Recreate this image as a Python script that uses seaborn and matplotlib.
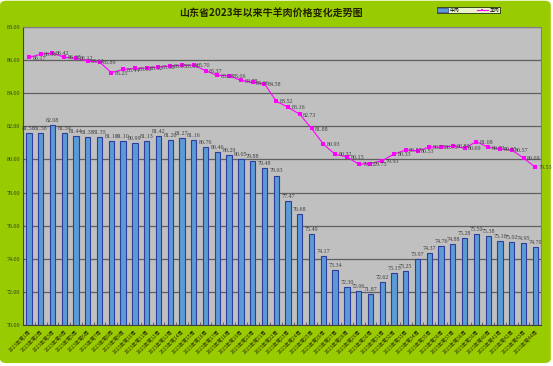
import numpy as np
import pandas as pd
import matplotlib
matplotlib.use("Agg")
import matplotlib.pyplot as plt
from matplotlib.patches import FancyBboxPatch, Patch
from matplotlib.lines import Line2D
import seaborn as sns

# weekly prices, 2023 week 1-44
weeks = [f"2023年第{i}周" for i in range(1, 45)]
beef = [81.58, 81.58, 82.08, 81.59, 81.44, 81.38, 81.35, 81.10, 81.10, 80.99,
        81.13, 81.42, 81.20, 81.27, 81.16, 80.76, 80.46, 80.29, 80.05, 79.88,
        79.48, 79.03, 77.47, 76.68, 75.49, 74.17, 73.34, 72.30, 72.06, 71.87,
        72.62, 73.15, 73.25, 73.97, 74.37, 74.76, 74.88, 75.28, 75.50, 75.38,
        75.10, 75.02, 74.95, 74.70]
mutton = [86.17, 86.36, 86.42, 86.18, 86.12, 85.94, 85.89, 85.25, 85.44, 85.50,
          85.52, 85.58, 85.65, 85.68, 85.70, 85.37, 85.08, 85.06, 84.78, 84.66,
          84.58, 83.52, 83.16, 82.73, 81.88, 80.93, 80.32, 80.15, 79.72, 79.75,
          79.93, 80.33, 80.57, 80.53, 80.75, 80.75, 80.80, 80.69, 81.08, 80.73,
          80.65, 80.57, 80.09, 79.53]
yticks = [70, 72, 74, 76, 78, 80, 82, 84, 86, 88]

df = pd.DataFrame({"week": weeks, "beef": beef, "mutton": mutton})
pos = np.arange(len(weeks))

plt.rcParams['font.family'] = ['Noto Sans CJK SC', 'DejaVu Sans']

fig = plt.figure(figsize=(5.53, 3.66), dpi=100, facecolor="white")
# rounded green frame
frame = FancyBboxPatch((0, 0.008), 0.996, 0.99, boxstyle="round,pad=0,rounding_size=0.012",
                       transform=fig.transFigure, facecolor="#99CC00", edgecolor="none", zorder=-10)
fig.patches.append(frame)

ax = fig.add_axes([0.0416, 0.112, 0.937, 0.814])
ax.set_facecolor("#C0C0C0")

sns.barplot(data=df, x="week", y="beef", color="#5B9BD5", width=0.45,
            edgecolor="#2E3D9E", linewidth=0.8, saturation=1, ax=ax, zorder=2)
sns.lineplot(x=pos, y=df["mutton"], color="#FF00FF", linewidth=0.8, marker="s",
             markersize=3, markeredgewidth=0, ax=ax, zorder=4)

ax.set_ylim(70, 88)
ax.set_xlim(-0.5, len(weeks) - 0.5)
ax.set_yticks(yticks)
ax.set_yticklabels([f"{v:.2f}" for v in yticks], fontsize=4.3, color="#333333",
                   family="Liberation Serif")
ax.yaxis.grid(True, color="#606060", linewidth=0.9, zorder=1)
ax.set_axisbelow(True)
ax.tick_params(axis="y", length=0, pad=2)

ax.set_xticks(pos)
ax.set_xticklabels(weeks, rotation=45, ha="right", rotation_mode="anchor",
                   fontsize=3.6, color="#333300")
ax.tick_params(axis="x", length=0, pad=3)
ax.set_xticks(pos[:-1] + 0.5, minor=True)
ax.tick_params(axis="x", which="minor", direction="in", length=2, color="#555555", width=0.6)
ax.set_xlabel("")
ax.set_ylabel("")

for s in ax.spines.values():
    s.set_color("#808080")
    s.set_linewidth(0.8)
ax.spines["left"].set_color("#404040")
ax.spines["bottom"].set_color("#404040")

for i in pos:
    ax.annotate(f"{beef[i]:.2f}", (i, beef[i]), xytext=(0, 1.5), textcoords="offset points",
                ha="center", va="bottom", fontsize=4.3, color="#404040",
                family="Liberation Serif", zorder=5)
    ax.annotate(f"{mutton[i]:.2f}", (i, mutton[i]), xytext=(2.5, -0.5), textcoords="offset points",
                ha="left", va="center", fontsize=4.3, color="#404040",
                family="Liberation Serif", zorder=5)

fig.text(0.49, 0.963, "山东省2023年以来牛羊肉价格变化走势图", ha="center", va="center",
         fontsize=7.2, fontweight="bold", color="#222200")

handles = [Patch(facecolor="#5B9BD5", edgecolor="#2E3D9E", linewidth=0.5),
           Line2D([0], [0], color="#FF00FF", linewidth=0.8, marker="s", markersize=2,
                  markeredgewidth=0)]
leg = fig.legend(handles, ["牛肉", "羊肉"], ncol=2, fontsize=3.5,
                 loc="center", bbox_to_anchor=(0.847, 0.972), frameon=True,
                 fancybox=False, handlelength=2.2, handleheight=0.6, borderpad=0.15,
                 columnspacing=3.5, handletextpad=0.4, labelspacing=0.1)
leg.get_frame().set_edgecolor("black")
leg.get_frame().set_linewidth(0.6)
leg.get_frame().set_facecolor("white")

fig.savefig("out.png", dpi=100, facecolor=fig.get_facecolor())
